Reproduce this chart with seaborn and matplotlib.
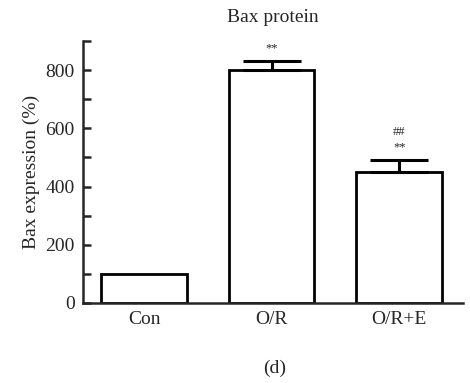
import matplotlib
matplotlib.use('Agg')
import matplotlib.pyplot as plt
import seaborn as sns
import pandas as pd

groups = ['Con', 'O/R', 'O/R+E']
bax_mean = [100, 800, 450]
bax_err = [0, 30, 40]
marks_top = ['', '**', '**']
marks_hash = ['', '', '##']

sns.set_style('ticks')
plt.rcParams['font.family'] = ['Liberation Serif', 'DejaVu Serif']

df = pd.DataFrame({'group': groups, 'value': bax_mean})

fig = plt.figure(figsize=(4.7, 3.83), dpi=100)
ax = fig.add_axes([0.1766, 0.2089, 0.8084, 0.6841])

sns.barplot(data=df, x='group', y='value', ax=ax, color='white',
            edgecolor='black', linewidth=2, width=0.67, errorbar=None,
            saturation=1)

# upward-only error bars with significance marks
for i, (m, e) in enumerate(zip(bax_mean, bax_err)):
    if e > 0:
        ax.errorbar(i, m, yerr=[[0], [e]], fmt='none', ecolor='black',
                    elinewidth=2.2, capsize=21, capthick=2.2)
    if marks_top[i]:
        ax.text(i, m + e + 45, marks_top[i], ha='center', va='center', fontsize=9)
    if marks_hash[i]:
        ax.text(i, m + e + 98, marks_hash[i], ha='center', va='center', fontsize=9)

ax.set_xlim(-0.48, 2.5)
ax.set_ylim(0, 900)
ax.set_yticks(range(0, 901, 100))
ax.set_yticklabels([str(v) if v % 200 == 0 else '' for v in range(0, 901, 100)])
ax.tick_params(axis='y', direction='in', length=6, width=1.8, labelsize=14, pad=6)
ax.tick_params(axis='x', length=0, labelsize=14, pad=6)
for s in ['left', 'bottom']:
    ax.spines[s].set_linewidth(1.8)
sns.despine(ax=ax)

ax.set_xlabel('')
ax.set_ylabel('Bax expression (%)', fontsize=14, labelpad=4)
ax.set_title('Bax protein', fontsize=14, pad=14)
fig.text(0.585, 0.025, '(d)', ha='center', fontsize=14)

plt.savefig('out.png', dpi=100)
plt.close()
